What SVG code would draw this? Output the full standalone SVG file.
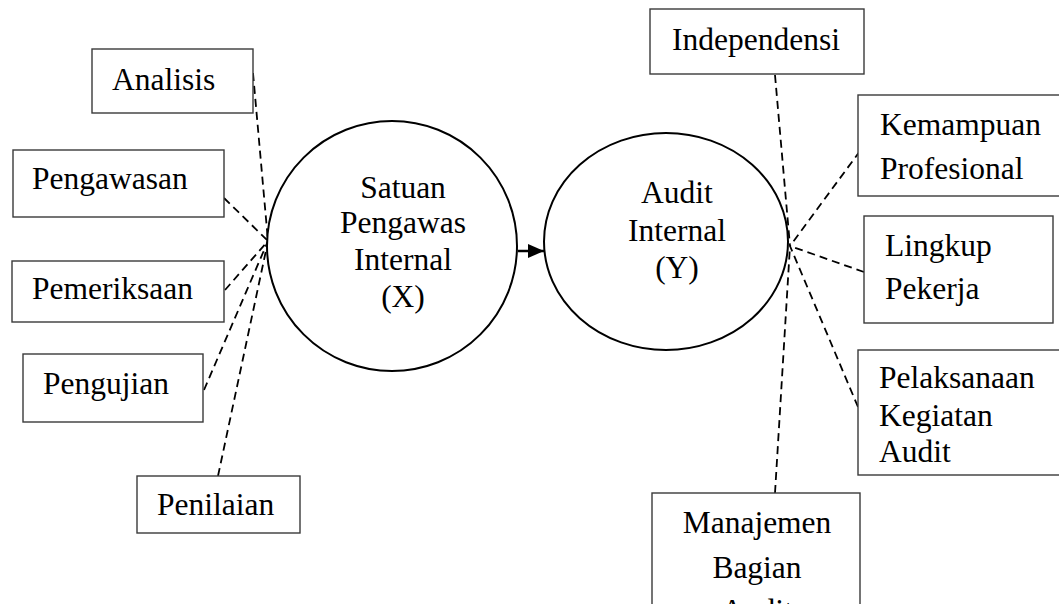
<svg xmlns="http://www.w3.org/2000/svg" width="1059" height="604" viewBox="0 0 1059 604">
<style>
.box{fill:#fff;stroke:#3a3a3a;stroke-width:1.4}
.circ{fill:#fff;stroke:#000;stroke-width:2}
.t{font-family:"Liberation Serif","Times New Roman",serif;font-size:31.5px;fill:#000}
.c{text-anchor:middle}
.d{stroke:#000;stroke-width:1.8;stroke-dasharray:8,5;fill:none}
</style>
<defs>
<marker id="ah" markerWidth="16" markerHeight="14" refX="16" refY="7" orient="auto" markerUnits="userSpaceOnUse">
<path d="M0,0 L16,7 L0,14 Z" fill="#000"/>
</marker>
</defs>
<rect width="1059" height="604" fill="#fff"/>
<g id="connectors">
<line class="d" x1="253" y1="73" x2="268" y2="241"/>
<line class="d" x1="224" y1="198" x2="268" y2="241"/>
<line class="d" x1="225" y1="290" x2="268" y2="241"/>
<line class="d" x1="204" y1="390" x2="268" y2="241"/>
<line class="d" x1="218" y1="476" x2="268" y2="241"/>
<line class="d" x1="775" y1="75" x2="790" y2="246"/>
<line class="d" x1="860" y1="151" x2="790" y2="246"/>
<line class="d" x1="864" y1="272" x2="790" y2="246"/>
<line class="d" x1="858" y1="407" x2="790" y2="246"/>
<line class="d" x1="775" y1="493" x2="790" y2="246"/>
<line x1="518" y1="251" x2="544" y2="251" stroke="#000" stroke-width="2.5" marker-end="url(#ah)"/>
</g>
<g id="nodeX">
<circle class="circ" cx="392" cy="246" r="125"/>
<text class="t c" x="403" y="198">Satuan</text>
<text class="t c" x="403" y="233">Pengawas</text>
<text class="t c" x="403" y="270">Internal</text>
<text class="t c" x="403" y="307">(X)</text>
</g>
<g id="nodeY">
<ellipse class="circ" cx="666" cy="241.5" rx="122" ry="108.5"/>
<text class="t c" x="677" y="203">Audit</text>
<text class="t c" x="677" y="241">Internal</text>
<text class="t c" x="677" y="278">(Y)</text>
</g>
<g id="analisis">
<rect class="box" x="92" y="49" width="161" height="64"/>
<text class="t" x="112" y="90">Analisis</text>
</g>
<g id="pengawasan">
<rect class="box" x="13" y="150" width="211" height="67"/>
<text class="t" x="32" y="189">Pengawasan</text>
</g>
<g id="pemeriksaan">
<rect class="box" x="12" y="261" width="212" height="61"/>
<text class="t" x="32" y="299">Pemeriksaan</text>
</g>
<g id="pengujian">
<rect class="box" x="23" y="354" width="180" height="68"/>
<text class="t" x="43" y="394">Pengujian</text>
</g>
<g id="penilaian">
<rect class="box" x="137" y="476" width="163" height="57"/>
<text class="t" x="157" y="515">Penilaian</text>
</g>
<g id="independensi">
<rect class="box" x="650" y="9" width="214" height="65"/>
<text class="t" x="672" y="50">Independensi</text>
</g>
<g id="kemampuan">
<rect class="box" x="858" y="95" width="205" height="101"/>
<text class="t" x="880" y="135">Kemampuan</text>
<text class="t" x="880" y="179">Profesional</text>
</g>
<g id="lingkup">
<rect class="box" x="864" y="216" width="189" height="107"/>
<text class="t" x="885" y="256">Lingkup</text>
<text class="t" x="885" y="299">Pekerja</text>
</g>
<g id="pelaksanaan">
<rect class="box" x="858" y="350" width="205" height="125"/>
<text class="t" x="879" y="388">Pelaksanaan</text>
<text class="t" x="879" y="426">Kegiatan</text>
<text class="t" x="879" y="462">Audit</text>
</g>
<g id="manajemen">
<rect class="box" x="652" y="493" width="208" height="140"/>
<text class="t c" x="757" y="533">Manajemen</text>
<text class="t c" x="757" y="578">Bagian</text>
<text class="t c" x="757" y="621">Audit</text>
</g>
</svg>
